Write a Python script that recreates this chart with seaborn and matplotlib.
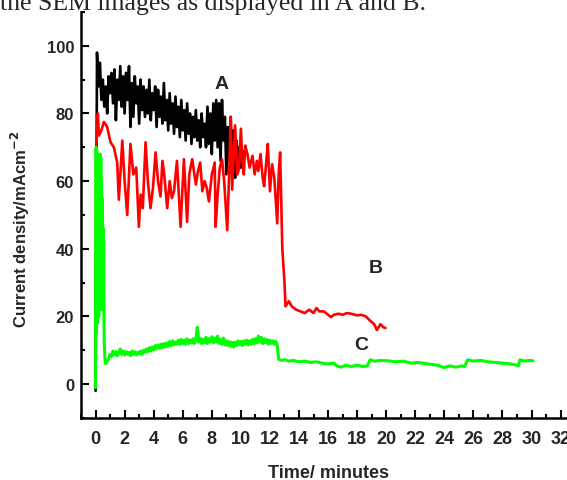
import matplotlib
matplotlib.use("Agg")
import matplotlib.pyplot as plt
import numpy as np
import pandas as pd
import seaborn as sns
from matplotlib.ticker import MultipleLocator

# Curve A (black), sampled every 0.1 min from t = 0
current_a = [-2, 98, 88, 95, 84, 90, 82, 88, 80, 91,
             86, 92, 83, 93, 78, 90, 84, 94, 82, 91,
             80, 92, 84, 94, 76, 89, 79, 91, 83, 88,
             77, 90, 81, 88, 79, 87, 80, 90, 78, 86,
             81, 88, 76, 87, 79, 85, 77, 89, 78, 84,
             75, 86, 77, 83, 74, 85, 76, 82, 73, 84,
             75, 81, 72, 83, 74, 80, 71, 79, 73, 81,
             72, 78, 70, 80, 73, 77, 70, 82, 71, 80,
             68, 83, 72, 84, 70, 83, 66, 84, 72, 79,
             62, 76, 66, 79, 64, 75, 61, 72, 65, 70,
             64, 69, 67, 69]

# Curve B (red)
time_b = [0.0, 0.05, 0.16, 0.23, 0.4, 0.57, 0.8, 1.03, 1.26, 1.49,
          1.6, 1.72, 1.84, 2.0, 2.18, 2.4, 2.6, 2.8, 2.98, 3.1,
          3.25, 3.44, 3.6, 3.78, 3.95, 4.13, 4.3, 4.47, 4.6, 4.7,
          4.93, 5.1, 5.25, 5.4, 5.6, 5.85, 6.08, 6.3, 6.45, 6.65,
          6.9, 7.05, 7.2, 7.35, 7.5, 7.65, 7.8, 8.0, 8.2, 8.26,
          8.4, 8.55, 8.7, 8.85, 9.06, 9.2, 9.3, 9.4, 9.6, 9.75,
          9.87, 10.0, 10.1, 10.2, 10.3, 10.45, 10.6, 10.8, 10.95, 11.1,
          11.2, 11.35, 11.5, 11.6, 11.75, 11.85, 12.0, 12.15, 12.3, 12.5,
          12.6, 12.7, 12.85, 13.0, 13.07, 13.3, 13.5, 13.8, 14.1, 14.4,
          14.7, 15.0, 15.2, 15.4, 15.7, 16.0, 16.2, 16.4, 16.7, 17.0,
          17.3, 17.6, 18.0, 18.3, 18.6, 18.9, 19.1, 19.2, 19.35, 19.5,
          19.6, 19.8, 19.95]
current_b = [0, 70, 80, 73.5, 75, 77.5, 76, 71.5, 70, 65.5,
             54.5, 63, 72, 60, 50, 71, 62, 64, 46.5, 56,
             52, 71.5, 60, 52, 58, 68.5, 60, 55.5, 66, 63,
             52, 60, 55, 57, 66, 46.5, 66.5, 48, 62, 66.5,
             59, 63, 65.5, 57, 60, 58, 54, 62, 65.5, 46.5,
             56, 64, 66.5, 60, 45.5, 63, 79, 57.5, 76.5, 62,
             63.5, 75.5, 66, 62, 70.5, 68, 64, 67.5, 62, 66,
             63, 68, 61, 58.5, 66, 71, 57, 65, 61, 47.5,
             62, 68.5, 40, 30, 23, 24.5, 23, 22, 21.5, 21,
             22, 21, 22.5, 21.5, 21.5, 20.5, 19.8, 20.5, 20.8, 20.5,
             21, 20.8, 20.3, 20.5, 20, 18.7, 18, 17.5, 16, 17,
             17.7, 16.8, 16.6]

# Curve C (green): start transient, dense part every 0.1 min from 0.7, tail
time_c_start = [0.0, 0.02, 0.04, 0.06, 0.08, 0.10, 0.12, 0.14, 0.16, 0.18,
                0.20, 0.22, 0.24, 0.26, 0.28, 0.30, 0.32, 0.34, 0.36, 0.38,
                0.40, 0.42, 0.44, 0.46, 0.48, 0.50, 0.52, 0.54, 0.56, 0.58,
                0.60, 0.65]
current_c_start = [-1, 40, 70, 15, 69, 22, 66, 18, 62, 25,
                   60, 20, 58, 28, 64, 35, 68, 30, 67, 40,
                   60, 22, 55, 30, 50, 25, 46, 35, 42, 20,
                   12, 7]
current_c_mid = [6.0, 6.8, 7.5, 8.8, 8.2, 9.8, 8.6, 9.6, 8.4, 9.2,
                 10.4, 8.8, 9.8, 8.6, 9.6, 8.8, 9.4, 8.4, 9.8, 8.8,
                 9.6, 8.6, 9.4, 9.0, 9.8, 8.8, 10.0, 9.4, 10.4, 9.6,
                 10.8, 9.8, 11.0, 10.2, 11.4, 10.4, 11.6, 10.6, 11.8, 10.8,
                 12.0, 11.0, 12.2, 11.2, 12.6, 11.4, 12.8, 11.6, 12.4, 11.8,
                 13.0, 11.8, 13.2, 12.0, 13.0, 11.8, 13.4, 12.0, 13.0, 12.2,
                 13.4, 12.0, 13.0, 16.8, 12.4, 13.6, 12.0, 13.2, 12.2, 13.8,
                 12.0, 13.4, 12.4, 14.0, 12.2, 13.6, 12.4, 14.2, 12.0, 13.2,
                 11.8, 13.6, 11.6, 12.8, 11.4, 12.6, 11.2, 12.4, 11.0, 12.4,
                 11.4, 12.8, 11.6, 12.6, 11.4, 12.8, 11.8, 13.0, 11.6, 12.8,
                 11.8, 13.2, 12.0, 13.4, 12.2, 14.2, 12.4, 13.8, 12.0, 13.4,
                 12.2, 13.2, 11.8, 13.0, 12.0, 12.8, 11.8, 12.6, 11.4]
time_c_end = [12.6, 12.8, 13.0, 13.3, 13.6, 14.0, 14.4, 14.8, 15.2, 15.6,
              16.0, 16.4, 16.6, 16.9, 17.2, 17.6, 18.0, 18.4, 18.7, 18.9,
              19.2, 19.6, 20.1, 20.6, 21.2, 21.7, 22.2, 22.8, 23.5, 23.8,
              24.0, 24.4, 24.8, 25.2, 25.4, 25.6, 26.0, 26.5, 27.0, 27.5,
              28.0, 28.5, 29.0, 29.1, 29.2, 29.5, 29.8, 30.1]
current_c_end = [7.4, 7.0, 7.2, 6.8, 7.0, 6.6, 6.8, 6.4, 6.6, 6.2,
                 6.0, 6.2, 5.4, 5.0, 5.6, 5.2, 5.6, 5.2, 5.4, 7.2,
                 6.8, 7.0, 6.9, 6.6, 6.8, 6.2, 6.4, 6.0, 5.6, 5.2,
                 4.9, 5.4, 5.0, 5.4, 5.2, 7.2, 6.8, 7.0, 6.6, 6.4,
                 6.2, 6.0, 5.6, 5.4, 7.2, 6.8, 7.0, 6.9]

# Build tables
df_a = pd.DataFrame({"time": np.arange(len(current_a)) * 0.1, "current": current_a})
df_b = pd.DataFrame({"time": time_b, "current": current_b})
time_c_mid = 0.7 + np.arange(len(current_c_mid)) * 0.1
df_c = pd.DataFrame({
    "time": np.concatenate([time_c_start, time_c_mid, time_c_end]),
    "current": np.concatenate([current_c_start, current_c_mid, current_c_end]),
})

sns.set_style("ticks")
plt.rcParams["font.family"] = ["Liberation Sans", "DejaVu Sans"]

fig = plt.figure(figsize=(5.67, 4.81), dpi=100)
ax = fig.add_axes([0.1429, 0.129, 0.8715, 0.844])

sns.lineplot(data=df_a, x="time", y="current", ax=ax, color="black",
             lw=1.9, estimator=None, sort=False)
sns.lineplot(data=df_b, x="time", y="current", ax=ax, color="#ff0000",
             lw=1.9, estimator=None, sort=False)
sns.lineplot(data=df_c, x="time", y="current", ax=ax, color="#00ff00",
             lw=2.2, estimator=None, sort=False)

ax.set_xlim(-1, 33)
ax.set_ylim(-10, 110)
ax.xaxis.set_major_locator(MultipleLocator(2))
ax.xaxis.set_minor_locator(MultipleLocator(1))
ax.yaxis.set_major_locator(MultipleLocator(20))
ax.yaxis.set_minor_locator(MultipleLocator(10))
ax.set_yticks([0, 20, 40, 60, 80, 100])

ax.tick_params(which="both", direction="in", width=1.5, color="black")
ax.tick_params(which="major", length=6)
ax.tick_params(which="minor", length=3)
ax.tick_params(axis="x", which="major", pad=9, labelsize=13)
ax.tick_params(axis="y", which="major", pad=5, labelsize=12)
for lab in ax.get_xticklabels() + ax.get_yticklabels():
    lab.set_fontweight("bold")

for side in ["top", "right"]:
    ax.spines[side].set_visible(False)
for side in ["left", "bottom"]:
    ax.spines[side].set_linewidth(1.8)
    ax.spines[side].set_color("black")

ax.set_xlabel("Time/ minutes", fontsize=13, fontweight="bold")
ax.set_ylabel("Current density/mAcm$^{\\mathbf{-2}}$", fontsize=12, fontweight="bold")
ax.xaxis.set_label_coords(0.5, -0.113)
ax.yaxis.set_label_coords(-0.099, 0.466)

ax.text(8.67, 88.8, "A", fontsize=14, fontweight="bold", ha="center", va="center")
ax.text(19.27, 34.6, "B", fontsize=14, fontweight="bold", ha="center", va="center")
ax.text(18.3, 11.8, "C", fontsize=14, fontweight="bold", ha="center", va="center")

# cut-off caption line from the page above the figure
fig.text(0.0, 0.979, "the SEM images as displayed in A and B.", fontsize=18.5,
         family="Liberation Serif", ha="left", va="baseline")

fig.savefig("out.png", dpi=100)
